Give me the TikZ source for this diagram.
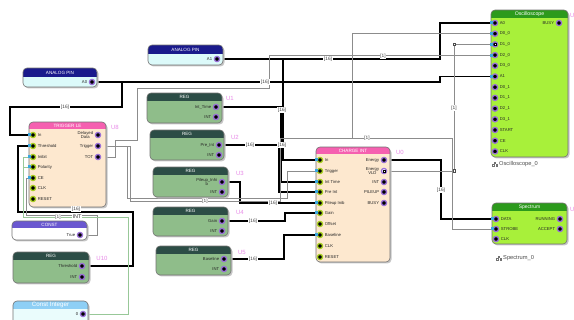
\documentclass[tikz,border=0pt]{standalone}
\usepackage{fontspec}
\setmainfont{Liberation Sans}
\usetikzlibrary{calc}
\definecolor{ingreen}{HTML}{A8D020}
\definecolor{outpurple}{HTML}{9A70D8}
\definecolor{tabc}{HTML}{3AA8E0}
\definecolor{sigc}{HTML}{8C8C8C}
\definecolor{greenw}{HTML}{98C898}
\definecolor{ulabc}{HTML}{E88AE8}
\definecolor{navyh}{HTML}{1A1A8C}
\definecolor{apbody}{HTML}{DCFAFA}
\definecolor{pinkh}{HTML}{F560B0}
\definecolor{peach}{HTML}{FDE8CF}
\definecolor{regh}{HTML}{2C4D46}
\definecolor{regb}{HTML}{8FBD8A}
\definecolor{consth}{HTML}{6A58D0}
\definecolor{cih}{HTML}{8ECFF5}
\definecolor{cib}{HTML}{EAFCFC}
\definecolor{limeb}{HTML}{A8F03A}
\definecolor{greenh}{HTML}{2C9A1C}
\pgfdeclarelayer{paper}
\pgfdeclarelayer{bg}
\pgfsetlayers{paper,bg,main}
\tikzset{
 inport/.style={circle,draw=ingreen,line width=1.3pt,fill=black,minimum size=5.2pt,inner sep=0pt},
 outport/.style={circle,draw=outpurple,line width=1.3pt,fill=black,minimum size=5.2pt,inner sep=0pt},
 plab/.style={font=\fontsize{4.2}{3.9}\selectfont,inner sep=0.4pt,text=black!85,align=center},
 htext/.style={font=\fontsize{4.6}{5}\selectfont,text=white,inner sep=0pt},
 ulab/.style={font=\fontsize{6}{6}\selectfont,text=ulabc,inner sep=0pt},
 bus/.style={line width=1.3pt,black},
 sig/.style={line width=0.7pt,sigc},
 gsig/.style={line width=0.8pt,greenw},
 wlab/.style={fill=white,inner sep=0.7pt,font=\fontsize{4.8}{5}\selectfont,text=black!75},
 jsq/.style={rectangle,draw=black!70,fill=white,line width=0.4pt,minimum size=2.6pt,inner sep=0pt},
 inst/.style={font=\fontsize{5.7}{6}\selectfont,text=black!70,inner sep=0pt,anchor=west},
}
% block: name, x1, y1, x2, y2, header bottom, head colour, body colour, title
\newcommand\blk[9]{%
 \fill[black!22,rounded corners=4pt] ({#2+1.5},{#3+1.5}) rectangle ({#4+1.5},{#5+1.5});
 \begin{scope}
 \clip[rounded corners=4pt] (#2,#3) rectangle (#4,#5);
 \fill[#8] (#2,#3) rectangle (#4,#5);
 \fill[#7] (#2,#3) rectangle (#4,#6);
 \end{scope}
 \draw[black!55,line width=0.6pt,rounded corners=4pt] (#2,#3) rectangle (#4,#5);
 \node[htext] (#1) at ({(#2+#4)/2},{(#3+#6)/2}) {#9};
}
\newcommand\pin[4]{\node[inport] (#1) at (#2,#3) {};
 \node[plab,anchor=west] (#1l) at ({#2+4.3},#3) {#4};}
\newcommand\pout[4]{\node[outport] (#1) at (#2,#3) {};
 \node[plab,anchor=east] (#1l) at ({#2-4.3},#3) {#4};}
\newcommand\spin[4]{\node[outport] (#1) at (#2,#3) {};
 \node[plab,anchor=west] (#1l) at ({#2+4.3},#3) {#4};}
\newcommand\ptab[1]{\fill[tabc] ($(#1)+(-4.9,-1.5)$) rectangle ($(#1)+(-1.9,1.5)$);}
\newcommand\icon[2]{%
 \draw[black!55,line width=0.3pt] (#1,{#2-2.2}) rectangle ({#1+1.6},{#2-0.6});
 \draw[black!55,line width=0.3pt] ({#1-1.8},{#2+0.6}) rectangle ({#1-0.2},{#2+2.2});
 \draw[black!55,line width=0.3pt] ({#1+1.8},{#2+0.6}) rectangle ({#1+3.4},{#2+2.2});}
\begin{document}
\begin{tikzpicture}[x=1pt,y=-1pt]
\useasboundingbox (0,0) rectangle (574,320);
\begin{pgfonlayer}{paper}
\fill[white] (0,0) rectangle (574,320);
\end{pgfonlayer}

% ---------- analog pins ----------
\blk{ap1}{148}{45}{223}{65}{54}{navyh}{apbody}{ANALOG PIN}
\pout{pa1}{217}{59}{A1}
\blk{ap0}{23}{68}{97}{87}{77}{navyh}{apbody}{ANALOG PIN}
\pout{pa0}{92}{82}{A0}

% ---------- trigger LE ----------
\blk{tle}{29}{122}{106}{207}{129}{pinkh}{peach}{TRIGGER LE}
\node[ulab] (u8) at (115,127) {U8};
\pin{tIn}{33}{135}{In}
\pin{tThr}{33}{146}{Threshold}
\pin{tInh}{33}{157}{Inibit}
\pin{tPol}{33}{167}{Polarity}
\pin{tCE}{33}{178}{CE}
\pin{tClk}{33}{188}{CLK}
\pin{tRst}{33}{199}{RESET}
\ptab{tIn}\ptab{tThr}\ptab{tInh}\ptab{tPol}\ptab{tCE}
\pout{tDel}{98}{135}{Delayed\\Data}
\pout{tTrig}{98}{146}{Trigger}
\pout{tTot}{98}{157}{TOT}

% ---------- registers ----------
\blk{r1}{147}{93}{222}{123}{101}{regh}{regb}{REG}
\pout{u1p}{216}{107}{Int\_Time}
\pout{u1i}{216}{117}{INT}
\node[ulab] (u1) at (230,98) {U1};
\blk{r2}{150}{130}{224}{160}{138}{regh}{regb}{REG}
\pout{u2p}{219}{145}{Pre\_Int}
\pout{u2i}{219}{155}{INT}
\node[ulab] (u2) at (235,137) {U2};
\blk{r3}{153}{167}{228}{197}{175}{regh}{regb}{REG}
\pout{u3p}{222}{182}{Pileup\_Inhi\\b}
\pout{u3i}{222}{192}{INT}
\node[ulab] (u3) at (240,173) {U3};
\blk{r4}{153}{207}{228}{236}{215}{regh}{regb}{REG}
\pout{u4p}{222}{221}{Gain}
\pout{u4i}{222}{231}{INT}
\node[ulab] (u4) at (240,212) {U4};
\blk{r5}{156}{246}{231}{275}{254}{regh}{regb}{REG}
\pout{u5p}{224}{259}{Baseline}
\pout{u5i}{224}{269}{INT}
\node[ulab] (u5) at (242,252) {U5};

% ---------- charge int ----------
\blk{ci}{316}{147}{390}{262}{154}{pinkh}{peach}{CHARGE INT}
\node[ulab] (u0) at (400,152) {U0};
\pin{cIn}{320}{160}{In}
\pin{cTrig}{320}{171}{Trigger}
\pin{cIntTime}{320}{182}{Int Time}
\pin{cPreInt}{320}{192}{Pre Int}
\pin{cPileup}{320}{203}{Pileup Inib}
\pin{cGain}{320}{213}{Gain}
\pin{cOff}{320}{224}{Offset}
\pin{cBase}{320}{235}{Baseline}
\pin{cClk}{320}{246}{CLK}
\pin{cRst}{320}{257}{RESET}
\ptab{cIn}\ptab{cTrig}\ptab{cIntTime}\ptab{cPreInt}\ptab{cPileup}\ptab{cGain}\ptab{cBase}
\pout{cEnergy}{384}{160}{Energy}
\node[outport,fill=white] (cEvld) at (384,171) {};
\node[plab,anchor=east] (cEvldl) at (379.7,171) {Energy\\VLD};
\node[rectangle,draw=black,line width=0.4pt,minimum size=2pt,inner sep=0pt] (cEvldsq) at (384,171) {};
\pout{cInt}{384}{182}{INT}
\pout{cPile}{384}{192}{PILEUP}
\pout{cBusy}{384}{203}{BUSY}

% ---------- oscilloscope ----------
\blk{osc}{491}{10}{568}{157}{18}{greenh}{limeb}{\fontsize{5.2}{5}\selectfont Oscilloscope}
\node[ulab,anchor=west] (uo) at (570,15) {U};
\spin{sA0}{495}{23}{A0}
\spin{sD00}{495}{33.7}{D0\_0}
\spin{sD10}{495}{44.4}{D1\_0}
\spin{sD20}{495}{55.1}{D2\_0}
\spin{sD30}{495}{65.8}{D3\_0}
\spin{sA1}{495}{76.5}{A1}
\spin{sD01}{495}{87.2}{D0\_1}
\spin{sD11}{495}{97.9}{D1\_1}
\spin{sD21}{495}{108.6}{D2\_1}
\spin{sD31}{495}{119.3}{D3\_1}
\spin{sStart}{495}{130}{START}
\spin{sCE}{495}{140.7}{CE}
\spin{sClk}{495}{151.4}{CLK}
\node[fill=white,minimum size=2.4pt,inner sep=0pt,draw=black,line width=0.3pt] (sD10c) at (495,44.4) {};
\ptab{sA0}\ptab{sD00}\ptab{sD10}\ptab{sD20}\ptab{sA1}
\pout{sBusy}{559}{23}{BUSY}
\icon{494}{164}
\node[inst] (oscname) at (499,164) {Oscilloscope\_0};

% ---------- spectrum ----------
\blk{spec}{492}{203}{567}{244}{211}{greenh}{limeb}{\fontsize{5}{5}\selectfont Spectrum}
\node[ulab,anchor=west] (us) at (570,209) {U};
\spin{spData}{496}{219}{DATA}
\spin{spStrobe}{496}{229}{STROBE}
\spin{spClk}{496}{239}{CLK}
\ptab{spData}\ptab{spStrobe}
\pout{spRun}{560}{219}{RUNNING}
\pout{spAcc}{560}{229}{ACCEPT}
\icon{498}{258}
\node[inst] (specname) at (503,258) {Spectrum\_0};

% ---------- const blocks ----------
\blk{cst}{12}{221}{87}{240}{228}{consth}{white}{CONST}
\pout{constp}{80}{235}{True}
\blk{r10}{13}{252}{89}{283}{260}{regh}{regb}{REG}
\pout{u10p}{82}{266}{Threshold}
\pout{u10i}{82}{277}{INT}
\node[ulab] (u10) at (102,258) {U10};
\blk{cint}{13}{301}{88}{326}{309}{cih}{cib}{\fontsize{6.2}{6}\selectfont Const Integer}
\pout{cip}{83}{314}{0}

% ---------- wires ----------
\begin{pgfonlayer}{bg}
\draw[bus] (pa1) -- (440,59) |- (sA0);
\draw[bus] (pa1) -- (283,59) -- (283,160) -- (cIn);
\draw[bus] (pa0) -- (440,82) |- (sA1);
\draw[bus] (pa0) -- (122,82) -- (122,107) -- (10,107) -- (10,135) -- (tIn);
\draw[bus] (u1p) -- (281,107) -- (281,182) -- (cIntTime);
\draw[bus] (u2p) -- (279,145) -- (279,192) -- (cPreInt);
\draw[bus] (u3p) -- (240,182) -- (240,203) -- (cPileup);
\draw[bus] (u4p) -- (285,221) -- (285,213) -- (cGain);
\draw[bus] (u5p) -- (284,259) -- (284,235) -- (cBase);
\draw[bus] (cEnergy) -- (441,160) -- (441,219) -- (spData);
\draw[bus] (u10p) -- (133,266) -- (133,212) -- (18,212) -- (18,146) -- (tThr);
\draw[sig] (cEvld) -- (454,171) |- (sD10);
\draw[sig] (tTrig) -- (127,146) -- (127,198) -- (287,198) -- (287,171) -- (cTrig);
\draw[sig] (tTrig) -- (130,146) -- (130,201) -- (280,201) -- (280,138) -- (452,138) -- (452,229) -- (spStrobe);
\draw[sig] (352,138) |- (sD00);
\draw[sig] (tTot) -- (115,157) -- (115,140) -- (137,140) -- (137,88) -- (269,88) |- (sD20);
\draw[sig] (constp) -- (97,235) -- (97,215) -- (26,215) -- (26,178) -- (tCE);
\draw[gsig] (cip) -- (128,314) -- (128,217) -- (23,217) -- (23,157) -- (tInh);
\draw[gsig] (23,167) -- (tPol);
\end{pgfonlayer}
\node[jsq] (j1) at (454,171) {};
\node[jsq] (j2) at (454,44.4) {};

% ---------- wire labels ----------
\node[wlab] (l1) at (328,59) {[16]};
\node[wlab] (l2) at (383,56) {[1]};
\node[wlab] (l3) at (265,82) {[16]};
\node[wlab] (l4) at (65,107) {[16]};
\node[wlab] (l5) at (282,110) {[16]};
\node[wlab] (l6) at (250,145) {[16]};
\node[wlab] (l7) at (282,145) {[16]};
\node[wlab] (l8) at (273,203) {[16]};
\node[wlab] (l9) at (205,201) {[1]};
\node[wlab] (l10) at (253,221) {[16]};
\node[wlab] (l11) at (253,259) {[16]};
\node[wlab] (l12) at (441,190) {[16]};
\node[wlab] (l13) at (454,108) {[1]};
\node[wlab] (l14) at (367,138) {[1]};
\node[wlab] (l15) at (76,209) {[16]};
\node[wlab] (l16) at (58,217) {[1]};
\node[wlab,font=\fontsize{5.5}{6}\selectfont,text=black!80] (l17) at (77,217) {INT};
\end{tikzpicture}
\end{document}
